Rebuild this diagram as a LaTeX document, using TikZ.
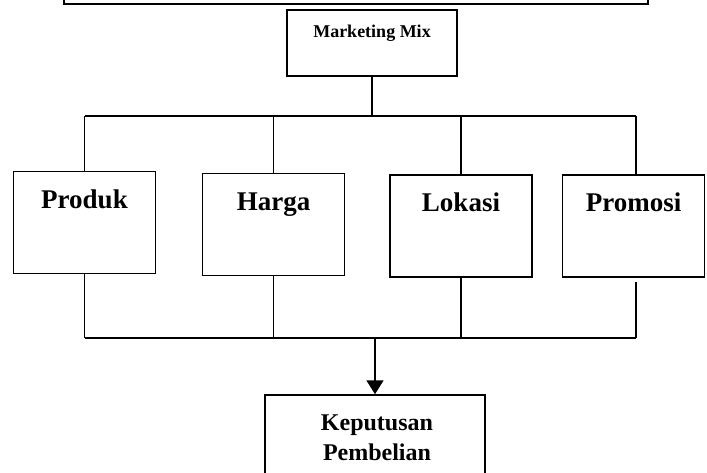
\documentclass[tikz,border=0pt]{standalone}
\usepackage{fontspec}
\setmainfont{Liberation Serif}
\usetikzlibrary{arrows.meta}

\tikzset{
  box/.style={draw, line width=1.5pt, inner sep=0pt},
  wire/.style={line width=1.5pt},
  ttl/.style={font=\bfseries\fontsize{27}{30}\selectfont, inner sep=0pt},
}

\begin{document}
\begin{tikzpicture}[x=1pt,y=-1pt]
\useasboundingbox (0,0) rectangle (707,473);
\clip (0,0) rectangle (707,473);

% The box above, cut by the page edge
\draw[box] (64,-20) rectangle (648,4);

% Marketing mix
\node[box, minimum width=170pt, minimum height=66pt] (mix) at (372,43) {};
\node[font=\bfseries\fontsize{18}{20}\selectfont, inner sep=0pt, anchor=base] (mix-t) at (372,38) {Marketing Mix};

% The four boxes
\foreach \name/\cx/\cy/\txt in {prod/84.5/222.5/Produk, harga/273.5/224.5/Harga, lok/461/226/Lokasi, promo/633.5/226/Promosi}{
  \node[box, minimum width=142pt, minimum height=102pt] (\name) at (\cx,\cy) {};
  \node[ttl, anchor=base] (\name-t) at (\cx,\cy-14) {\txt};
}

% Lines above and below them
\coordinate (up1) at (85,116);
\coordinate (up4) at (636,116);
\coordinate (lo1) at (85,338);
\coordinate (lo4) at (636,338);

\draw[wire] (mix.south) -- (mix.south |- up1);
\draw[wire] (up1) -- (up4);
\draw[wire] (lo1) -- (lo4);
\foreach \name in {prod,harga,lok}{
  \draw[wire] (\name.north) -- (\name.north |- up1);
  \draw[wire] (\name.south) -- (\name.south |- lo1);
}
\draw[wire] (up4) -- (up4 |- promo.north);
\draw[wire] ([yshift=-4pt]promo.south -| lo4) -- (lo4);

% Keputusan pembelian
\node[box, minimum width=220pt, minimum height=110pt] (kep) at (375,450) {};
\node[font=\bfseries\fontsize{24}{30}\selectfont, inner sep=0pt, align=center, anchor=base] (kep-t) at (377,460) {Keputusan\\Pembelian};

\draw[wire, -{Triangle[width=17pt,length=14pt]}] (kep.north |- lo1) -- (kep.north);

\end{tikzpicture}
\end{document}
